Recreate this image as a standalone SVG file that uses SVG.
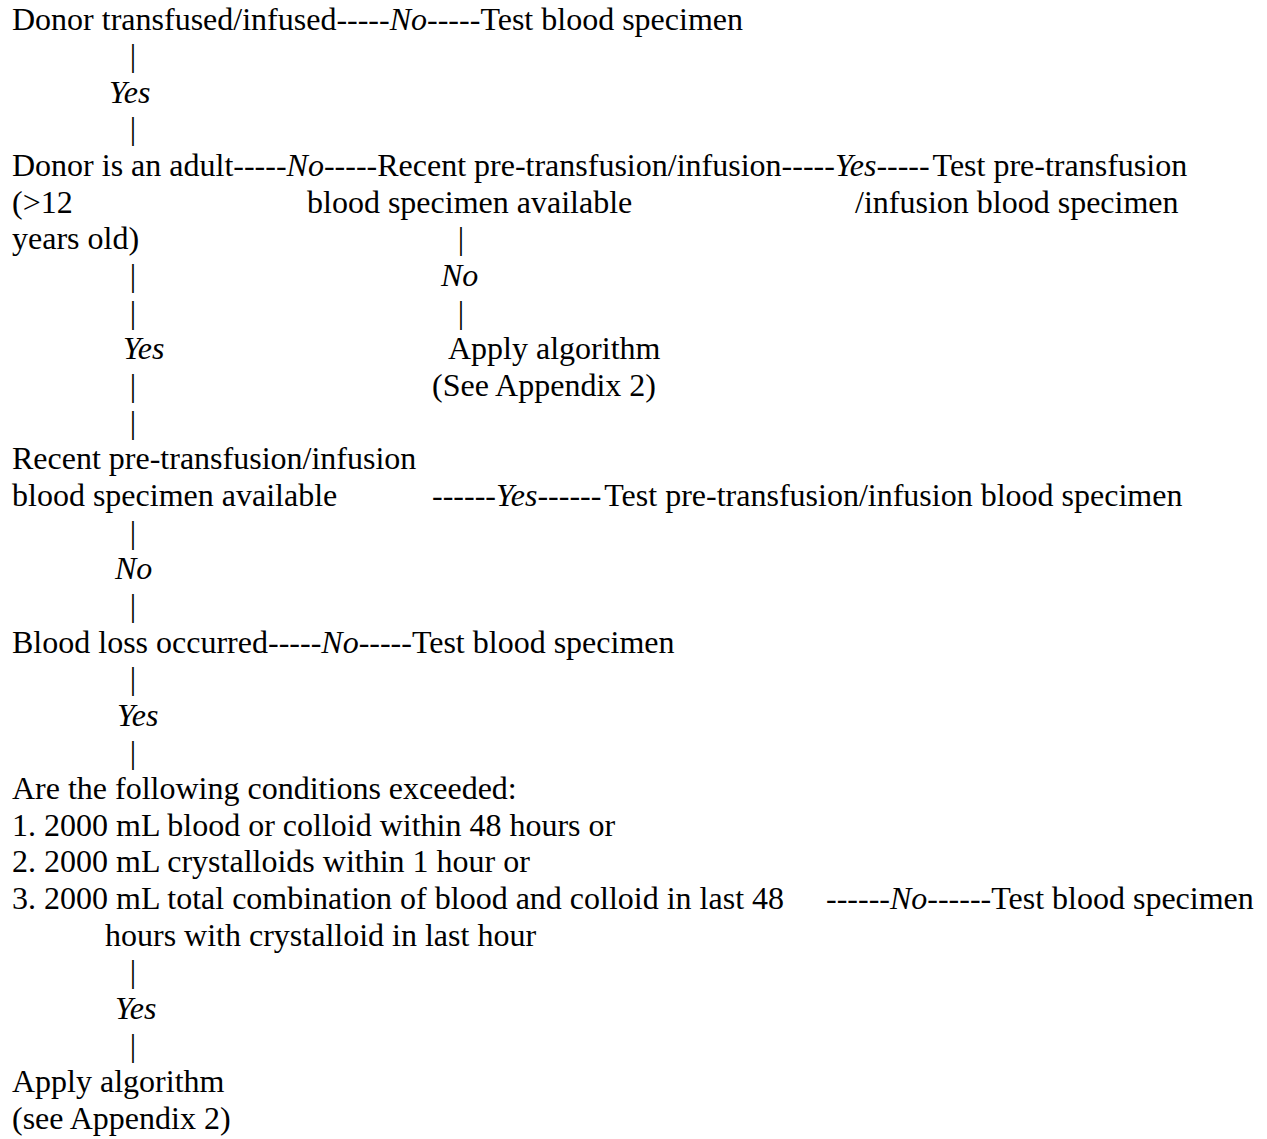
<svg xmlns="http://www.w3.org/2000/svg" width="1267" height="1139" viewBox="0 0 1267 1139">
<style>
text{font-family:"Liberation Serif","Times New Roman",serif;font-size:32px;fill:#000}
.i{font-style:italic}
</style>
<rect width="1267" height="1139" fill="#fff"/>
<g id="connectors">
<text x="336.4" y="29.5">-----<tspan class="i">No</tspan>-----</text>
<text x="129.8" y="66.15">|</text>
<text class="i" x="109" y="102.8">Yes</text>
<text x="129.8" y="139.45">|</text>
<text x="233.3" y="176.1">-----<tspan class="i">No</tspan>-----</text>
<text x="781.6" y="176.1">-----<tspan class="i">Yes</tspan>-----</text>
<text x="457.8" y="249.4">|</text>
<text x="129.8" y="286.05">|</text>
<text class="i" x="441" y="286.05">No</text>
<text x="129.8" y="322.7">|</text>
<text x="457.8" y="322.7">|</text>
<text class="i" x="123" y="359.35">Yes</text>
<text x="129.8" y="396">|</text>
<text x="129.8" y="432.65">|</text>
<text x="432" y="505.95">------<tspan class="i">Yes</tspan>------</text>
<text x="129.8" y="542.6">|</text>
<text class="i" x="115" y="579.25">No</text>
<text x="129.8" y="615.9">|</text>
<text x="268" y="652.55">-----<tspan class="i">No</tspan>-----</text>
<text x="129.8" y="689.2">|</text>
<text class="i" x="117" y="725.85">Yes</text>
<text x="129.8" y="762.5">|</text>
<text x="826" y="909.1">------<tspan class="i">No</tspan>------</text>
<text x="129.8" y="982.4">|</text>
<text class="i" x="115" y="1019.05">Yes</text>
<text x="129.8" y="1055.7">|</text>
</g>
<g id="n1"><text x="12" y="29.5">Donor transfused/infused</text></g>
<g id="n2"><text x="480.4" y="29.5">Test blood specimen</text></g>
<g id="n3"><text x="12" y="176.1">Donor is an adult</text><text x="12" y="212.75">(&gt;12</text><text x="12" y="249.4">years old)</text></g>
<g id="n4"><text x="377.2" y="176.1">Recent pre-transfusion/infusion</text><text x="307" y="212.75">blood specimen available</text></g>
<g id="n5"><text x="932.6" y="176.1">Test pre-transfusion</text><text x="855" y="212.75">/infusion blood specimen</text></g>
<g id="n6"><text x="448" y="359.35">Apply algorithm</text><text x="432" y="396">(See Appendix 2)</text></g>
<g id="n7"><text x="12" y="469.3">Recent pre-transfusion/infusion</text><text x="12" y="505.95">blood specimen available</text></g>
<g id="n8"><text x="604.3" y="505.95">Test pre-transfusion/infusion blood specimen</text></g>
<g id="n9"><text x="12" y="652.55">Blood loss occurred</text></g>
<g id="n10"><text x="411.9" y="652.55">Test blood specimen</text></g>
<g id="n11"><text x="12" y="799.15">Are the following conditions exceeded:</text><text x="12" y="835.8">1. 2000 mL blood or colloid within 48 hours or</text><text x="12" y="872.45">2. 2000 mL crystalloids within 1 hour or</text><text x="12" y="909.1">3. 2000 mL total combination of blood and colloid in last 48</text><text x="105" y="945.75">hours with crystalloid in last hour</text></g>
<g id="n12"><text x="991.2" y="909.1">Test blood specimen</text></g>
<g id="n13"><text x="12" y="1092.35">Apply algorithm</text><text x="12" y="1129">(see Appendix 2)</text></g>
</svg>
